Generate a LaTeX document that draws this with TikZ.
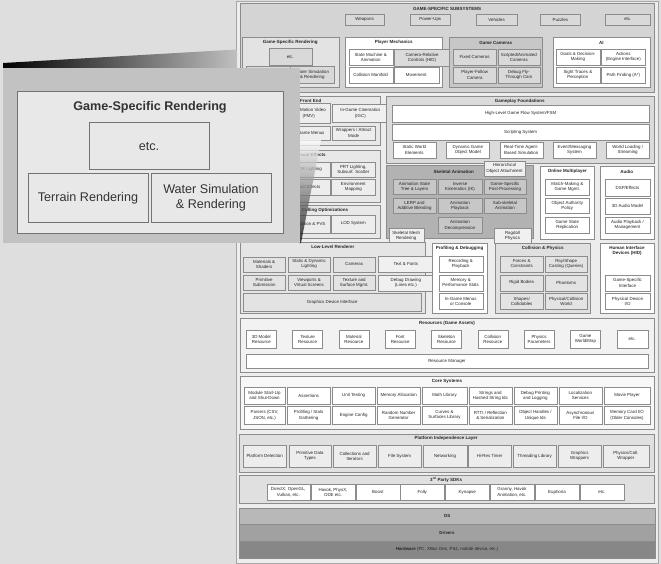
\documentclass[tikz,border=0pt]{standalone}
\usepackage{fontspec}
\setmainfont{Liberation Sans}
\usetikzlibrary{shadows}
\definecolor{pagebg}{gray}{0.87}
\definecolor{framebg}{gray}{0.93}
\definecolor{bord}{gray}{0.55}
\newcommand\bx[7][cell]{\node[#1, minimum width={#5-#3}, minimum height={#6-#4}] (#2) at ({(#3+#5)/2},{(#4+#6)/2}) {#7};}
\newcommand\sect[8]{\node[sec, fill=#1, minimum width={#5-#3}, minimum height={#6-#4}] (#2) at ({(#3+#5)/2},{(#4+#6)/2}) {};
  \node[ttl] (#2t) at ({(#3+#5)/2},#8) {#7};}
\begin{document}
\begin{tikzpicture}[x=1pt,y=-1pt,
  every node/.style={inner sep=0pt, outer sep=0pt, align=center, text=black!85,
    font=\fontsize{4.4}{5.2}\selectfont},
  sec/.style={draw=bord, line width=0.4pt},
  ttl/.style={font=\fontsize{4.5}{5.4}\selectfont\bfseries},
  cell/.style={draw=bord, line width=0.35pt, fill=white},
  cg/.style={cell, fill=black!15},
  cl/.style={cell, fill=black!7},
  cs/.style={cell, fill=black!22},
  cp/.style={cell, fill=black!11},
  pop/.style={cell, fill=black!6, drop shadow={shadow xshift=0.8pt, shadow yshift=-0.8pt, opacity=0.35}},
  popg/.style={cell, fill=black!14, drop shadow={shadow xshift=0.8pt, shadow yshift=-0.8pt, opacity=0.35}},
  big/.style={draw=black!55, line width=1pt, fill=black!9, font=\fontsize{12.6}{14.6}\selectfont, text=black!80},
  layer/.style={draw=bord, line width=0.4pt}
]
\useasboundingbox (0,0) rectangle (661,564);
\fill[pagebg] (0,0) rectangle (661,564);
\filldraw[fill=framebg, draw=black!35, line width=0.5pt] (236.5,1) rectangle (658,563);

% ---------- GAME-SPECIFIC SUBSYSTEMS
\sect{black!17}{gss}{240}{3}{654}{92}{GAME-SPECIFIC SUBSYSTEMS}{9}
\bx[cg]{weap}{345.3}{14}{383.7}{25}{Weapons}
\bx[cg]{powr}{410.3}{14}{450.3}{25}{Power-Ups}
\bx[cg]{vehi}{476.3}{14}{517}{25}{Vehicles}
\bx[cg]{puzz}{540.3}{14}{580.3}{25}{Puzzles}
\bx[cg]{getc}{605.3}{14}{650.3}{25}{etc.}

\sect{black!11}{gsr}{242}{37.3}{338.7}{87.3}{Game-Specific Rendering}{42.7}
\bx[cg]{gsretc}{268.7}{48.3}{312}{65}{etc.}
\bx[cg]{terr}{246.3}{66}{290.3}{83.3}{Terrain Rendering}
\bx[cg]{water}{290.3}{66}{334.3}{83.3}{Water Simulation\\\& Rendering}

\sect{white}{pm}{345.3}{37.3}{442}{87.3}{Player Mechanics}{42.7}
\bx{stm}{348.7}{49.3}{392.7}{65}{State Machine \&\\Animation}
\bx{colm}{348.7}{66.7}{392.7}{83.3}{Collision Manifold}
\bx{move}{393.7}{66.7}{438.7}{83.3}{Movement}
\bx[popg]{camrel}{393.7}{49.3}{450.3}{65.7}{Camera-Relative\\Controls (HID)}

\sect{black!22}{gcam}{449.3}{37.3}{542}{87.3}{Game Cameras}{42.7}
\bx[cg]{fixc}{453}{49.3}{496.3}{65}{Fixed Cameras}
\bx[cg]{scrc}{498}{49.3}{539.7}{65}{Scripted/Animated\\Cameras}
\bx[cg]{plfc}{453}{66.7}{496.3}{83.3}{Player-Follow\\Camera}
\bx[cg]{dbgc}{498}{66.7}{539.7}{83.3}{Debug Fly-\\Through Cam}

\sect{white}{ai}{553}{37.3}{649.7}{87.3}{AI}{42.7}
\bx{goal}{556}{49.3}{599.7}{65}{Goals \& Decision-\\Making}
\bx{actn}{601.3}{49.3}{645.3}{65}{Actions\\(Engine Interface)}
\bx{sight}{556}{66.7}{599.7}{83.3}{Sight Traces \&\\Perception}
\bx{path}{601.3}{66.7}{645.3}{83.3}{Path Finding (A*)}

% ---------- left column under the callout
\sect{black!9}{fe}{242}{96.7}{379.7}{145}{Front End}{101}
\bx[cl]{fmv}{287}{103.3}{330.3}{123.3}{Full-Motion Video\\(FMV)}
\bx[cl]{igm}{287}{126}{330.3}{140}{In-Game Menus}
\bx[cl]{wrap}{332}{126}{375.3}{140}{Wrappers / Attract\\Mode}
\bx[pop]{igc}{332}{104.3}{388.7}{122.3}{In-Game Cinematics\\(IGC)}

\sect{black!9}{vfx}{242}{150}{379.7}{202}{Visual Effects}{155}
\bx[cl]{hdr}{287}{161.7}{330.3}{176.7}{HDR Lighting}
\bx[cl]{prt}{331.3}{161.7}{375.3}{176.7}{PRT Lighting,\\Subsurf. Scatter}
\bx[cl]{post}{287}{179.3}{330.3}{195}{Post Effects}
\bx[cl]{envm}{331.3}{179.3}{375.3}{195}{Environment\\Mapping}

\node[sec, fill=black!9, minimum width=137.7, minimum height=33.3] (cull) at (310.85,221.65) {};
\node[ttl] (cullt) at (325,210) {Culling Optimizations};
\bx[cl]{occl}{287}{215}{330.3}{232.7}{Occlusion \& PVS}
\bx[cl]{lod}{331.3}{215}{375.3}{232.7}{LOD System}

% ---------- Gameplay foundations
\sect{black!14}{gf}{386}{96.7}{653.7}{163.3}{Gameplay Foundations}{101}
\bx{hlgf}{392}{105}{649.3}{121.7}{High-Level Game Flow System/FSM}
\bx{scrp}{392}{124.3}{649.3}{140}{Scripting System}
\bx{stw}{392.7}{142.3}{436}{157.7}{Static World\\Elements}
\bx{dgo}{446.3}{142.3}{489.3}{157.7}{Dynamic Game\\Object Model}
\bx{rtab}{499.7}{142.3}{542.7}{157.7}{Real-Time Agent-\\Based Simulation}
\bx{evm}{553}{142.3}{596}{157.7}{Event/Messaging\\System}
\bx{wls}{606}{142.3}{649.3}{157.7}{World Loading /\\Streaming}

% ---------- Skeletal animation
\node[sec, fill=black!30, minimum width=147, minimum height=73.3] (skel) at (459.5,201.65) {};
\node[ttl] (skelt) at (453.7,171.7) {Skeletal Animation};
\bx[pop]{hoa}{483.7}{161}{525.3}{175.7}{Hierarchical\\Object Attachment}
\bx[cs]{ast}{392.7}{179}{436.3}{194.3}{Animation State\\Tree \& Layers}
\bx[cs]{ik}{438}{179}{482}{194.3}{Inverse\\Kinematics (IK)}
\bx[cs]{gspp}{483.7}{179}{526.3}{194.3}{Game-Specific\\Post-Processing}
\bx[cs]{lerp}{392.7}{197.7}{436.3}{213.3}{LERP and\\Additive Blending}
\bx[cs]{apb}{438}{197.7}{482}{213.3}{Animation\\Playback}
\bx[cs]{subsk}{483.7}{197.7}{526.3}{213.3}{Sub-skeletal\\Animation}
\bx[cs]{adec}{438}{217.3}{482}{233.3}{Animation\\Decompression}
\bx[pop]{smr}{388.7}{228.3}{423.7}{243.3}{Skeletal Mesh\\Rendering}
\bx[pop]{ragd}{493.7}{228.3}{531.3}{243.3}{Ragdoll\\Physics}

\sect{white}{om}{540.3}{166}{594.3}{239.3}{Online Multiplayer}{171.7}
\bx{mm}{545.3}{179.3}{589.3}{195}{Match-Making \&\\Game Mgmt.}
\bx{oap}{545.3}{197.7}{589.3}{213.3}{Object Authority\\Policy}
\bx{gsrep}{545.3}{216.7}{589.3}{232.7}{Game State\\Replication}

\sect{white}{aud}{599.7}{166}{653.7}{239.3}{Audio}{171.7}
\bx{dsp}{605.3}{179.3}{649.7}{196}{DSP/Effects}
\bx{a3d}{605.3}{198.3}{649.7}{214}{3D Audio Model}
\bx{apm}{605.3}{216.7}{649.7}{232.7}{Audio Playback /\\Management}

% ---------- Low-level renderer row
\sect{black!10}{llr}{240.3}{241.7}{425.3}{312.7}{Low-Level Renderer}{246.5}
\bx[cp]{mat}{243}{256.7}{285.3}{271.7}{Materials \&\\Shaders}
\bx[cp]{sdl}{287.7}{256.7}{330.3}{271.7}{Static \& Dynamic\\Lighting}
\bx[cp]{cams}{333}{256.7}{375.3}{271.7}{Cameras}
\bx[cp]{prim}{243}{275}{285.3}{290}{Primitive\\Submission}
\bx[cp]{vps}{287.7}{275}{330.3}{290}{Viewports \&\\Virtual Screens}
\bx[cp]{tex}{333}{275}{375.3}{290}{Texture and\\Surface Mgmt.}
\bx[cp]{gdi}{243}{293.3}{421.3}{310.7}{Graphics Device Interface}
\bx[pop]{txf}{378}{256}{433.7}{272.3}{Text \& Fonts}
\bx[pop]{dbd}{378}{275}{433.7}{290.7}{Debug Drawing\\(Lines etc.)}

\sect{white}{pd}{432}{243.3}{487}{312.7}{Profiling \& Debugging}{248.3}
\bx{rec}{438.7}{256}{482.7}{271.7}{Recording \&\\Playback}
\bx{mps}{438.7}{275}{482.7}{290.7}{Memory \&\\Performance Stats}
\bx{igmc}{438.7}{293.3}{482.7}{309.3}{In-Game Menus\\or Console}

\sect{black!12}{cp}{495.3}{243.3}{590.3}{312.7}{Collision \& Physics}{248.3}
\bx[cp]{forc}{500.3}{256}{543}{271.7}{Forces \&\\Constraints}
\bx[cp]{ray}{545.3}{256}{587}{271.7}{Ray/Shape\\Casting (Queries)}
\bx[cp]{rig}{500.3}{275}{543}{290.7}{Rigid Bodies}
\bx[cp]{phan}{545.3}{275}{587}{290.7}{Phantoms}
\bx[cp]{shp}{500.3}{293.3}{543}{309.3}{Shapes/\\Collidables}
\bx[cp]{pcw}{545.3}{293.3}{587}{309.3}{Physical/Collision\\World}

\sect{white}{hid}{600.3}{243.3}{653.7}{312.7}{Human Interface\\Devices (HID)}{251}
\bx{gsi}{605.3}{275}{649.7}{290.7}{Game-Specific\\Interface}
\bx{pdio}{605.3}{293.3}{649.7}{309.3}{Physical Device\\I/O}

% ---------- Resources
\sect{black!5}{res}{240.3}{318.3}{653.7}{372.3}{Resources (Game Assets)}{323.3}
\bx{r1}{246.3}{330}{276.3}{348.3}{3D Model\\Resource}
\bx{r2}{292.6}{330}{322.6}{348.3}{Texture\\Resource}
\bx{r3}{338.9}{330}{368.9}{348.3}{Material\\Resource}
\bx{r4}{385.2}{330}{415.2}{348.3}{Font\\Resource}
\bx{r5}{431.5}{330}{461.5}{348.3}{Skeleton\\Resource}
\bx{r6}{477.8}{330}{507.8}{348.3}{Collision\\Resource}
\bx{r7}{524.1}{330}{554.1}{348.3}{Physics\\Parameters}
\bx{r8}{570.4}{330}{600.4}{348.3}{Game\\World/Map}
\bx{r9}{616.7}{330}{647.7}{348.3}{etc.}
\bx{rman}{246.3}{354.3}{647.7}{368.3}{Resource Manager}

% ---------- Core systems
\sect{black!3}{core}{240.3}{376}{653.7}{428.7}{Core Systems}{381.3}
\bx{c1}{243.7}{387}{285.3}{404.3}{Module Start-Up\\and Shut-Down}
\bx{c2}{287}{387}{330.3}{404.3}{Assertions}
\bx{c3}{332}{387}{375.3}{404.3}{Unit Testing}
\bx{c4}{377}{387}{420.3}{404.3}{Memory Allocation}
\bx{c5}{422}{387}{467}{404.3}{Math Library}
\bx{c6}{468.7}{387}{512}{404.3}{Strings and\\Hashed String Ids}
\bx{c7}{513.7}{387}{557}{404.3}{Debug Printing\\and Logging}
\bx{c8}{558.7}{387}{602}{404.3}{Localization\\Services}
\bx{c9}{603.7}{387}{650.3}{404.3}{Movie Player}
\bx{c10}{243.7}{406.3}{285.3}{424.3}{Parsers (CSV,\\JSON, etc.)}
\bx{c11}{287}{406.3}{330.3}{424.3}{Profiling / Stats\\Gathering}
\bx{c12}{332}{406.3}{375.3}{424.3}{Engine Config}
\bx{c13}{377}{406.3}{420.3}{424.3}{Random Number\\Generator}
\bx{c14}{422}{406.3}{467}{424.3}{Curves \&\\Surfaces Library}
\bx{c15}{468.7}{406.3}{512}{424.3}{RTTI / Reflection\\\& Serialization}
\bx{c16}{513.7}{406.3}{557}{424.3}{Object Handles /\\Unique Ids}
\bx{c17}{558.7}{406.3}{602}{424.3}{Asynchronous\\File I/O}
\bx{c18}{603.7}{406.3}{650.3}{424.3}{Memory Card I/O\\(Older Consoles)}

% ---------- Platform independence layer
\sect{black!12}{pil}{238.7}{433.7}{653.7}{472}{Platform Independence Layer}{438.3}
\bx[cl]{p1}{243}{445.3}{286.3}{467}{Platform Detection}
\bx[cl]{p2}{288.7}{445.3}{331.3}{467}{Primitive Data\\Types}
\bx[cl]{p3}{333}{445.3}{376.3}{467}{Collections and\\Iterators}
\bx[cl]{p4}{378}{445.3}{421.3}{467}{File System}
\bx[cl]{p5}{423}{445.3}{467}{467}{Networking}
\bx[cl]{p6}{468}{445.3}{511.3}{467}{Hi-Res Timer}
\bx[cl]{p7}{513}{445.3}{556.3}{467}{Threading Library}
\bx[cl]{p8}{558}{445.3}{601.3}{467}{Graphics\\Wrappers}
\bx[cl]{p9}{603}{445.3}{648.7}{467}{Physics/Coll.\\Wrapper}

% ---------- 3rd party SDKs
\sect{black!12}{sdk}{238.7}{475.3}{653.7}{503}{3\textsuperscript{rd} Party SDKs}{479.5}
\bx{s1}{267}{483.7}{309.7}{500.5}{DirectX, OpenGL,\\Vulkan, etc.}
\bx{s2}{311.3}{483.7}{354.7}{500.5}{Havok, PhysX,\\ODE etc.}
\bx{s3}{356}{483.7}{399.7}{500.5}{Boost}
\bx{s4}{400.3}{483.7}{444.3}{500.5}{Folly}
\bx{s5}{445.3}{483.7}{489.3}{500.5}{Kynapse}
\bx{s6}{490.3}{483.7}{533.7}{500.5}{Granny, Havok\\Animation, etc.}
\bx{s7}{535.3}{483.7}{578.7}{500.5}{Euphoria}
\bx{s8}{580.3}{483.7}{623.7}{500.5}{etc.}

% ---------- OS / Drivers / Hardware
\bx[layer, fill=black!28]{os}{238.7}{507.7}{655.3}{524.3}{\bfseries OS}
\bx[layer, fill=black!37]{drv}{238.7}{524.3}{655.3}{541}{\bfseries Drivers}
\bx[layer, fill=black!47]{hw}{238.7}{541}{655.3}{558.3}{\textbf{Hardware} (PC, XBox One, PS4, mobile device, etc.)}

% ---------- magnifier callout
\shade[left color=black, right color=black!25] (3,63) -- (237,49.5) -- (237,68) -- (3,68) -- cycle;
\shade[top color=white, bottom color=black, opacity=0.75] (299,140) -- (321,140) -- (301,243) -- (299,243) -- cycle;
\fill[black!24] (3,68) rectangle (300,243);
\node[big, minimum width=266, minimum height=141] (panel) at (150,162.5) {};
\node[font=\fontsize{12.6}{14.6}\selectfont\bfseries, text=black!80] (panelt) at (150,107.5) {Game-Specific Rendering};
\node[big, minimum width=120, minimum height=47] (betc) at (149,146.5) {etc.};
\node[big, minimum width=120, minimum height=48] (bterr) at (88,198) {Terrain Rendering};
\node[big, minimum width=120, minimum height=48] (bwater) at (211,198) {Water Simulation\\\& Rendering};
\end{tikzpicture}
\end{document}
